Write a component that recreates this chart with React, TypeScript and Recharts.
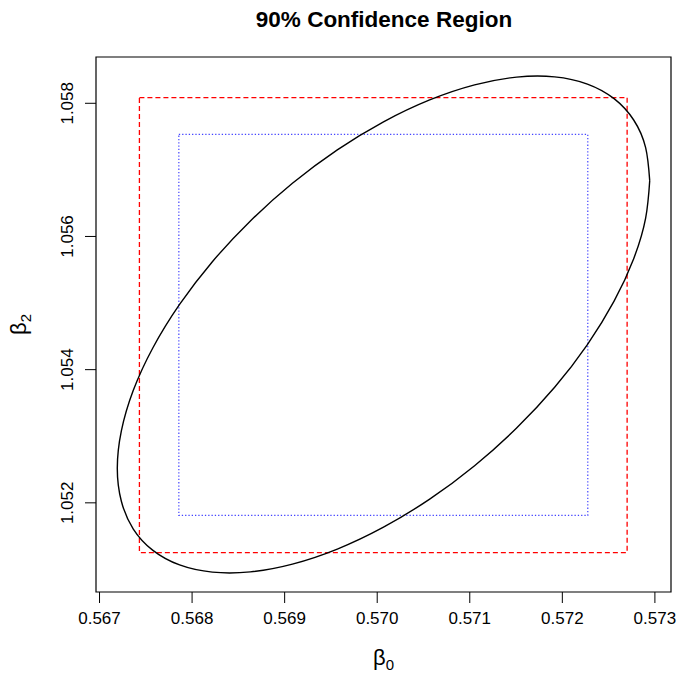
import React from "react";
import { ScatterChart, Scatter, XAxis, YAxis, ReferenceArea, Label } from "recharts";

const FONT = "'Liberation Sans', Arial, sans-serif";

const xTicks = [0.567, 0.568, 0.569, 0.57, 0.571, 0.572, 0.573];
const yTicks = [1.052, 1.054, 1.056, 1.058];
const xDomain = [0.566962, 0.573174];
const yDomain = [1.050661, 1.058695];

// rectangles as [x1, x2, y1, y2]
const redBox = [0.567431, 0.5727, 1.051253, 1.058086];
const blueBox = [0.567857, 0.572275, 1.051811, 1.057532];

// points read round the ellipse
const ellipseX = [
  0.572944, 0.5729, 0.572771, 0.572559, 0.572271, 0.571917, 0.571506, 0.571052, 0.570567,
  0.570068, 0.569569, 0.569084, 0.56863, 0.568219, 0.567865, 0.567577, 0.567365, 0.567236,
  0.567192, 0.567236, 0.567365, 0.567577, 0.567865, 0.568219, 0.56863, 0.569084, 0.569569,
  0.570068, 0.570567, 0.571052, 0.571506, 0.571917, 0.572271, 0.572559, 0.572771, 0.5729,
  0.572944,
];
const ellipseY = [
  1.056838, 1.057333, 1.057749, 1.05807, 1.058289, 1.058397, 1.058393, 1.058276, 1.05805,
  1.057721, 1.0573, 1.056798, 1.056233, 1.055621, 1.054979, 1.054329, 1.053689, 1.053079,
  1.052518, 1.052023, 1.051607, 1.051286, 1.051067, 1.050959, 1.050963, 1.05108, 1.051306,
  1.051635, 1.052056, 1.052558, 1.053123, 1.053735, 1.054377, 1.055028, 1.055667, 1.056277,
  1.056838,
];

const ellipse = ellipseX.map((x, i) => ({ x, y: ellipseY[i] }));

const YTick = ({ x, y, payload }: any) => (
  <text
    x={x}
    y={y}
    transform={`rotate(-90, ${x}, ${y})`}
    textAnchor="middle"
    fontSize={17}
    fontFamily={FONT}
    fill="#000"
  >
    {Number(payload.value).toFixed(3)}
  </text>
);

const XTitle = ({ viewBox }: any) => (
  <text
    x={viewBox.x + viewBox.width / 2}
    y={viewBox.y + 73}
    textAnchor="middle"
    fontSize={22}
    fontFamily={FONT}
    fill="#000"
  >
    β<tspan fontSize={15} dy={5}>0</tspan>
  </text>
);

const YTitle = ({ viewBox }: any) => {
  const x = 26;
  const y = viewBox.y + viewBox.height / 2;
  return (
    <text
      x={x}
      y={y}
      transform={`rotate(-90, ${x}, ${y})`}
      textAnchor="middle"
      fontSize={22}
      fontFamily={FONT}
      fill="#000"
    >
      β<tspan fontSize={15} dy={5}>2</tspan>
    </text>
  );
};

const App = () => {
  return (
    <div style={{ position: "absolute", left: 0, top: 0, background: "#fff" }}>
      <ScatterChart width={680} height={676} margin={{ top: 57, right: 9, bottom: 0, left: 0 }}>
        <text
          x={384}
          y={27}
          textAnchor="middle"
          fontSize={22.5}
          fontWeight="bold"
          fontFamily={FONT}
          fill="#000"
        >
          90% Confidence Region
        </text>
        <XAxis
          type="number"
          dataKey="x"
          domain={xDomain}
          ticks={xTicks}
          interval={0}
          height={84}
          axisLine={false}
          tickSize={11}
          tickMargin={9}
          tickLine={{ stroke: "#000" }}
          tick={{ fontSize: 17, fontFamily: FONT, fill: "#000" }}
          tickFormatter={(v: number) => v.toFixed(3)}
        >
          <Label content={<XTitle />} />
        </XAxis>
        <YAxis
          type="number"
          dataKey="y"
          domain={yDomain}
          ticks={yTicks}
          interval={0}
          width={96}
          axisLine={false}
          tickSize={11}
          tickMargin={12}
          tickLine={{ stroke: "#000" }}
          tick={<YTick />}
        >
          <Label content={<YTitle />} />
        </YAxis>
        <ReferenceArea
          x1={xDomain[0]}
          x2={xDomain[1]}
          y1={yDomain[0]}
          y2={yDomain[1]}
          fill="none"
          stroke="#000"
          strokeWidth={1.2}
          fillOpacity={0}
        />
        <ReferenceArea
          x1={redBox[0]}
          x2={redBox[1]}
          y1={redBox[2]}
          y2={redBox[3]}
          fill="none"
          fillOpacity={0}
          stroke="#ff0000"
          strokeWidth={1.3}
          strokeDasharray="5 3"
        />
        <ReferenceArea
          x1={blueBox[0]}
          x2={blueBox[1]}
          y1={blueBox[2]}
          y2={blueBox[3]}
          fill="none"
          fillOpacity={0}
          stroke="#4444ff"
          strokeWidth={1.2}
          strokeDasharray="1.3 2"
        />
        <Scatter
          data={ellipse}
          line={{ stroke: "#000", strokeWidth: 1.4 }}
          lineType="joint"
          lineJointType="natural"
          shape={() => <g />}
          isAnimationActive={false}
        />
      </ScatterChart>
    </div>
  );
};

export default App;
